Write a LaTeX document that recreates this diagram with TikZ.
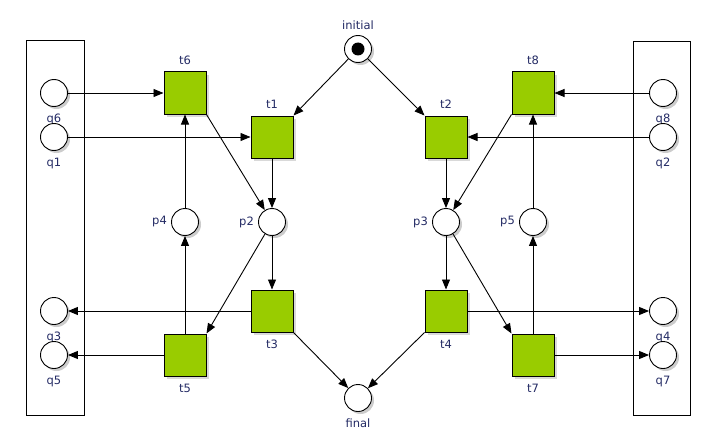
\documentclass[tikz,border=0pt]{standalone}
\usepackage{fontspec}
\setmainfont{DejaVu Sans}
\usetikzlibrary{arrows.meta,shadows}
\definecolor{transgreen}{RGB}{153,204,0}
\definecolor{labelblue}{RGB}{35,42,100}
\tikzset{
  place/.style={circle, draw, line width=0.9pt, fill=white, minimum size=27pt, inner sep=0pt,
    drop shadow={shadow xshift=2.5pt, shadow yshift=-2.5pt, fill=black!20, opacity=1}},
  trans/.style={rectangle, draw, line width=1pt, fill=transgreen, minimum size=42pt, inner sep=0pt,
    drop shadow={shadow xshift=3pt, shadow yshift=-3pt, fill=black!15, opacity=1}},
  token/.style={circle, fill=black, minimum size=13pt, inner sep=0pt},
  arc/.style={-{Triangle[length=10pt,width=8pt]}, line width=0.9pt},
  every label/.style={text=labelblue, font=\fontsize{11.5}{13}\selectfont, inner sep=2pt},
  label distance=5pt
}
\begin{document}
\begin{tikzpicture}[x=1pt, y=-1pt]
\useasboundingbox (0,0) rectangle (720,444);
\draw[line width=0.9pt] (26,40) rectangle (84,415);
\draw[line width=0.9pt] (633,41) rectangle (690,415);
\node[place, label={[label distance=3pt]above:initial}] (initial) at (358,49) {};
\node[token] (dot) at (initial) {};
\node[place, label=below:final] (final) at (358,398) {};
\node[place, label=below:q6] (q6) at (54,93) {};
\node[place, label=below:q1] (q1) at (54,137) {};
\node[place, label=below:q3] (q3) at (54,311) {};
\node[place, label=below:q5] (q5) at (54,355) {};
\node[place, label=below:q8] (q8) at (663,93) {};
\node[place, label=below:q2] (q2) at (663,137) {};
\node[place, label=below:q4] (q4) at (663,311) {};
\node[place, label=below:q7] (q7) at (663,355) {};
\node[place, label={[label distance=2pt]left:p4}] (p4) at (185,222) {};
\node[place, label={[label distance=2pt]left:p2}] (p2) at (272,222) {};
\node[place, label={[label distance=2pt]left:p3}] (p3) at (446,222) {};
\node[place, label={[label distance=2pt]left:p5}] (p5) at (533,222) {};
\node[trans, label=above:t6] (t6) at (185,93) {};
\node[trans, label=above:t1] (t1) at (272,137) {};
\node[trans, label=above:t2] (t2) at (446,137) {};
\node[trans, label=above:t8] (t8) at (533,93) {};
\node[trans, label=below:t3] (t3) at (272,311) {};
\node[trans, label=below:t4] (t4) at (446,311) {};
\node[trans, label=below:t5] (t5) at (185,355) {};
\node[trans, label=below:t7] (t7) at (533,355) {};
\draw[arc] (initial) -- (t1.north east);
\draw[arc] (initial) -- (t2.north west);
\draw[arc] (q6) -- (t6);
\draw[arc] (q1) -- (t1);
\draw[arc] (q8) -- (t8);
\draw[arc] (q2) -- (t2);
\draw[arc] (t1) -- (p2);
\draw[arc] (t2) -- (p3);
\draw[arc] (t6.south east) -- (p2);
\draw[arc] (t8.south west) -- (p3);
\draw[arc] (p4) -- (t6);
\draw[arc] (p5) -- (t8);
\draw[arc] (p2) -- (t3);
\draw[arc] (p3) -- (t4);
\draw[arc] (p2) -- (t5.north east);
\draw[arc] (p3) -- (t7.north west);
\draw[arc] (t5) -- (p4);
\draw[arc] (t7) -- (p5);
\draw[arc] (t3) -- (q3);
\draw[arc] (t4) -- (q4);
\draw[arc] (t5) -- (q5);
\draw[arc] (t7) -- (q7);
\draw[arc] (t3.south east) -- (final);
\draw[arc] (t4.south west) -- (final);
\end{tikzpicture}
\end{document}
